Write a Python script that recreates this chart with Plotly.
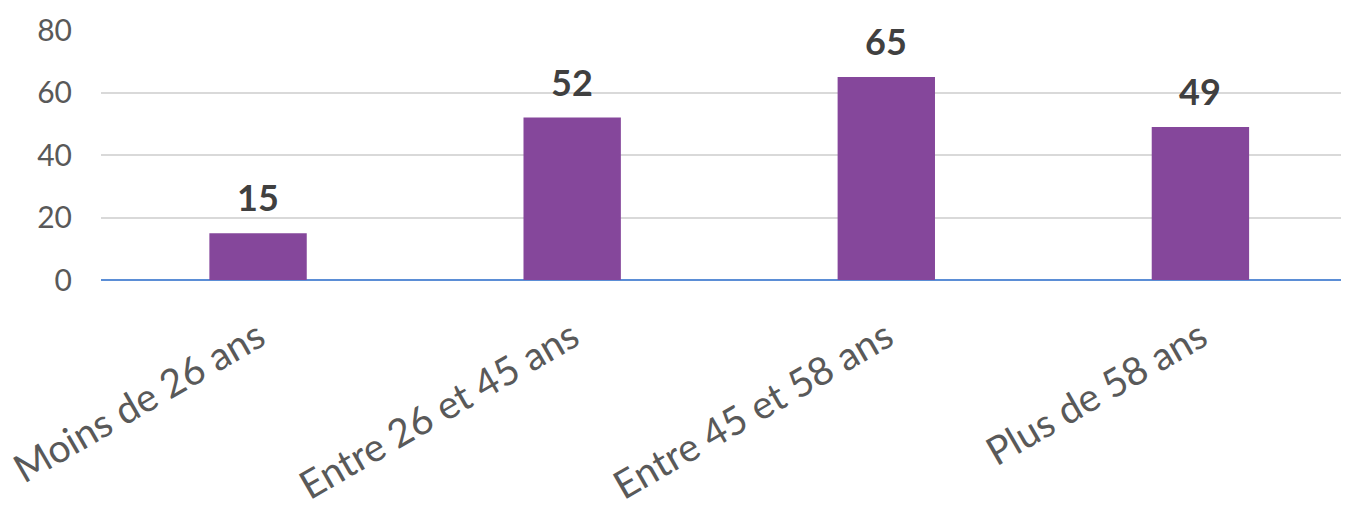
import plotly.graph_objects as go

categories = ["Moins de 26 ans", "Entre 26 et 45 ans", "Entre 45 et 58 ans", "Plus de 58 ans"]
values = [15, 52, 65, 49]
y_ticks = [0, 20, 40, 60, 80]

fig = go.Figure()
fig.add_trace(go.Bar(
    x=categories, y=values,
    marker=dict(color="#85479B", line=dict(width=0)),
    width=0.31,
    hoverinfo="skip",
))

for c, v in zip(categories, values):
    fig.add_annotation(
        x=c, y=v, text=f"<b>{v}</b>", showarrow=False,
        yanchor="bottom", yshift=12,
        font=dict(family="Lato, Open Sans, sans-serif", size=36, color="#404040"),
    )

fig.update_layout(
    width=1341, height=498,
    margin=dict(l=93, r=0, t=22, b=226, autoexpand=False),
    plot_bgcolor="white", paper_bgcolor="white",
    showlegend=False,
)
fig.update_xaxes(
    range=[-0.5, 3.473],
    tickangle=-30,
    tickfont=dict(family="Lato, Open Sans, sans-serif", size=39, color="#595959"),
    showgrid=False, showline=False, ticks="",
    ticklabelstandoff=26,
    automargin=False,
)
fig.update_yaxes(
    range=[0, 80], tickvals=y_ticks,
    showgrid=True, gridcolor="#D9D9D9", gridwidth=1.5,
    zeroline=True, zerolinecolor="#5B8ED6", zerolinewidth=2,
    tickfont=dict(family="Lato, Open Sans, sans-serif", size=30, color="#595959"),
    ticklabelstandoff=28,
    showline=False, ticks="",
    automargin=False,
)

fig.write_html("out.html")
